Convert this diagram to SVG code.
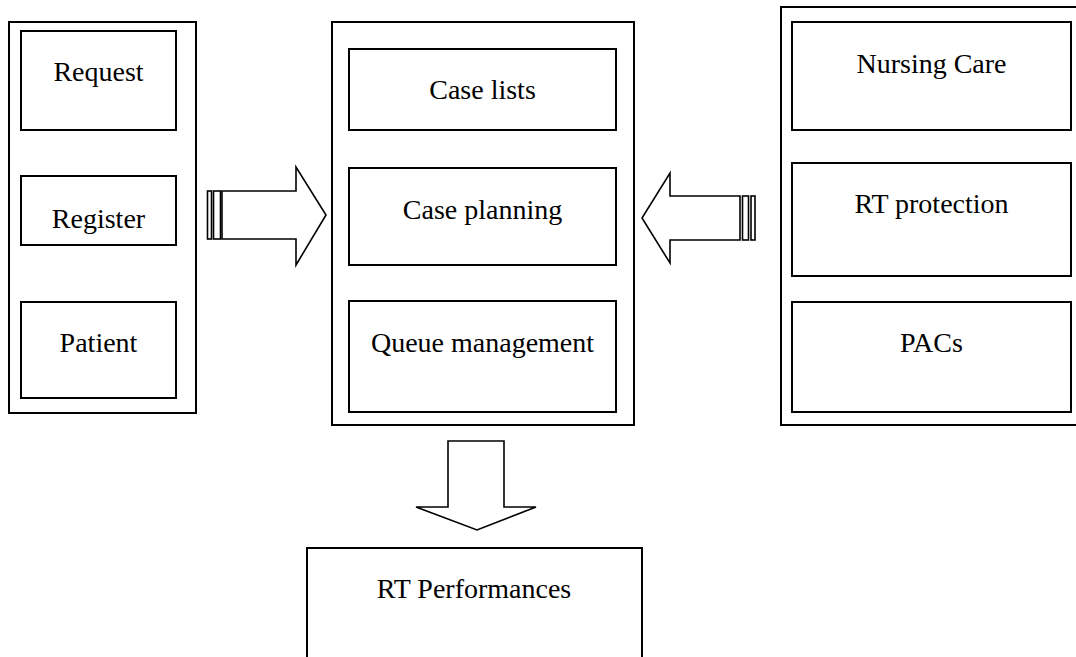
<svg xmlns="http://www.w3.org/2000/svg" width="1076" height="657" viewBox="0 0 1076 657">
  <style>
    .frame { fill: none; stroke: #000; stroke-width: 2; }
    .box { fill: none; stroke: #000; stroke-width: 2; }
    .arrow { fill: #fff; stroke: #000; stroke-width: 1.6; stroke-linejoin: miter; }
    .label { font-family: "Liberation Serif", "Times New Roman", serif; font-size: 28px; fill: #000; text-anchor: middle; }
  </style>
  <rect width="1076" height="657" fill="#fff"/>

  <!-- Left column: intake -->
  <g id="intake">
    <rect class="frame" x="9" y="22" width="187" height="391"/>
    <g id="request">
      <rect class="box" x="21" y="31" width="155" height="99"/>
      <text class="label" x="98.5" y="81">Request</text>
    </g>
    <g id="register">
      <rect class="box" x="21" y="176" width="155" height="69"/>
      <text class="label" x="98.5" y="228">Register</text>
    </g>
    <g id="patient">
      <rect class="box" x="21" y="302" width="155" height="96"/>
      <text class="label" x="98.5" y="352">Patient</text>
    </g>
  </g>

  <!-- Middle column: case handling -->
  <g id="cases">
    <rect class="frame" x="332" y="22" width="302" height="403"/>
    <g id="case-lists">
      <rect class="box" x="349" y="49" width="267" height="81"/>
      <text class="label" x="482.5" y="99">Case lists</text>
    </g>
    <g id="case-planning">
      <rect class="box" x="349" y="168" width="267" height="97"/>
      <text class="label" x="482.5" y="219">Case planning</text>
    </g>
    <g id="queue-management">
      <rect class="box" x="349" y="301" width="267" height="111"/>
      <text class="label" x="482.5" y="352">Queue management</text>
    </g>
  </g>

  <!-- Right column: support services (frame runs off the right edge) -->
  <g id="services">
    <path class="frame" d="M1080,7 H781 V425 H1080"/>
    <g id="nursing-care">
      <rect class="box" x="792" y="22" width="279" height="108"/>
      <text class="label" x="931.5" y="73">Nursing Care</text>
    </g>
    <g id="rt-protection">
      <rect class="box" x="792" y="163" width="279" height="113"/>
      <text class="label" x="931.5" y="213">RT protection</text>
    </g>
    <g id="pacs">
      <rect class="box" x="792" y="302" width="279" height="110"/>
      <text class="label" x="931.5" y="352">PACs</text>
    </g>
  </g>

  <!-- Bottom: output box (open at the lower edge) -->
  <g id="rt-performances">
    <path class="frame" d="M307,660 V548 H642 V660"/>
    <text class="label" x="474" y="598">RT Performances</text>
  </g>

  <!-- Block arrows between the columns -->
  <g id="connectors">
    <g id="arrow-intake-to-cases">
      <rect class="arrow" x="207.5" y="191" width="4" height="48"/>
      <rect class="arrow" x="213.5" y="191" width="7" height="48"/>
      <path class="arrow" d="M222,191 H296 V167 L326,215 L296,265 V239 H222 Z"/>
    </g>
    <g id="arrow-services-to-cases">
      <rect class="arrow" x="751" y="196" width="4" height="44"/>
      <rect class="arrow" x="742.5" y="196" width="6" height="44"/>
      <path class="arrow" d="M740,196 H670 V173 L642,218 L670,263 V240 H740 Z"/>
    </g>
    <g id="arrow-cases-to-output">
      <path class="arrow" d="M448,441 H504 V507 H536 L477,530 L416,507 H448 Z"/>
    </g>
  </g>
</svg>
